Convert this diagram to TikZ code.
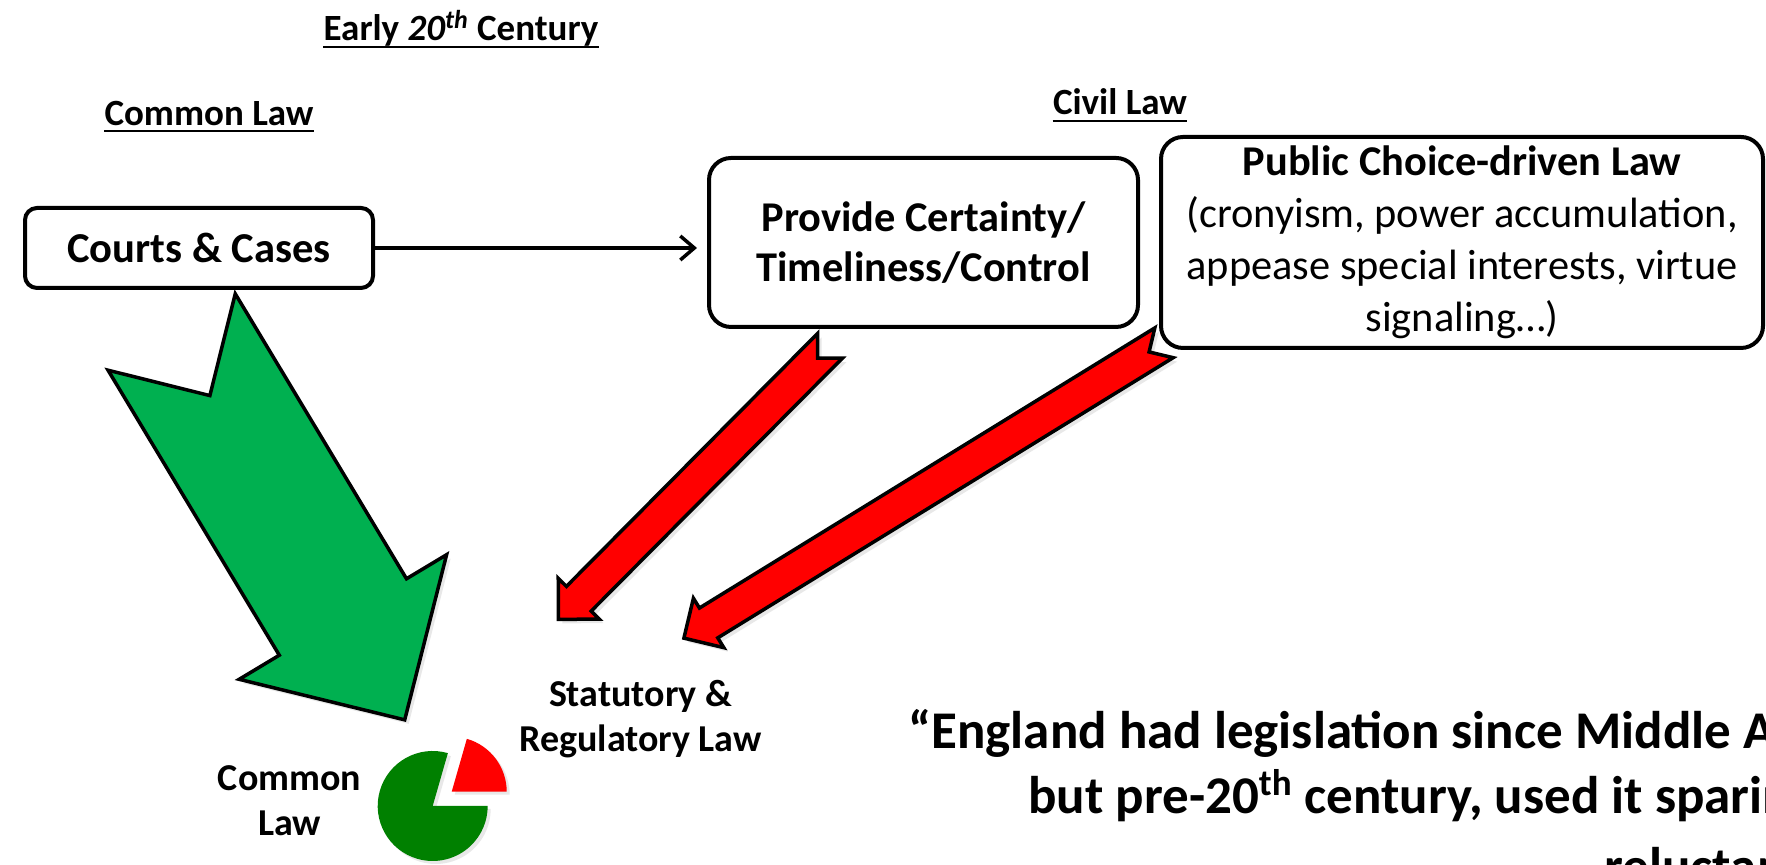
\documentclass[tikz,border=0pt]{standalone}
\usepackage{fontspec}
\setmainfont{Carlito}
\usetikzlibrary{arrows.meta,shadows}
\definecolor{arrowgreen}{HTML}{00B050}
\definecolor{piegreen}{HTML}{008000}
\definecolor{arrowred}{HTML}{FF0000}

% notched block arrow: style, tail midpoint, direction, length,
% half shaft width, half head width, head length
\newcommand{\notchedarrow}[7]{%
  \begin{scope}[shift={#2}, rotate=#3]
    \filldraw[#1] (0,#5) -- ({#4-#7},#5) -- ({#4-#7},#6) -- (#4,0)
      -- ({#4-#7},-#6) -- ({#4-#7},-#5) -- (0,-#5) -- (#5,0) -- cycle;
  \end{scope}}

\begin{document}
\begin{tikzpicture}[x=0.5pt,y=0.5pt,
  box/.style={draw=black, line width=2pt, fill=white, align=center, inner sep=0pt},
  hdr/.style={font=\fontsize{18.5}{22}\selectfont\bfseries, anchor=base, inner sep=0pt},
  underbar/.style={line width=1pt},
  lbl/.style={font=\fontsize{19}{22.5}\selectfont\bfseries, align=center, inner sep=0pt},
  quote/.style={font=\fontsize{26.5}{32}\selectfont\bfseries, anchor=base west, inner sep=0pt},
  blockarrow/.style={draw=black, line width=1.75pt, line join=miter,
    drop shadow={shadow xshift=2pt, shadow yshift=-2pt, opacity=0.18}},
  link/.style={line width=1.75pt, -{Straight Barb[length=7pt,width=12pt,line width=1.75pt]}, shorten >=5pt}]
\useasboundingbox (0,0) rectangle (1766,865);
\fill[white] (0,0) rectangle (1766,865);

% headings, underlined
\node[hdr] (era) at (461,824.3) {Early {\itshape 20\textsuperscript{th}} Century};
\node[hdr] (clhead) at (209,739.5) {Common Law};
\node[hdr] (civhead) at (1120,750) {Civil Law};
\foreach \h in {era,clhead,civhead}
  \draw[underbar] ([yshift=-3pt]\h.base west) -- ([yshift=-3pt]\h.base east);

% block arrows
\notchedarrow{blockarrow, fill=arrowgreen}{(171.65,533)}{-59}{452.5}{74.2}{121}{120}
\notchedarrow{blockarrow, fill=arrowred}{(830,519.2)}{225.2}{385.5}{17.5}{29}{29}
\notchedarrow{blockarrow, fill=arrowred}{(1164,522.2)}{211.6}{563.7}{17.5}{29}{29}

% boxes
\node[box, rounded corners=6pt, minimum width=174pt, minimum height=40pt,
  font=\fontsize{21.3}{25}\selectfont\bfseries] (courts) at (199,617) {Courts \& Cases};
\node[box, rounded corners=11pt, minimum width=214.5pt, minimum height=84.5pt,
  font=\fontsize{21.2}{25}\selectfont\bfseries] (provide) at (923.5,622.5)
  {Provide Certainty/\\Timeliness/Control};
\node[box, rounded corners=11pt, minimum width=301pt, minimum height=105.5pt,
  font=\fontsize{21.2}{26}\selectfont] (publicchoice) at (1462,622.5)
  {\textbf{Public Choice-driven Law}\\(cronyism, power accumulation,\\appease special interests, virtue\\signaling…)};

\draw[link] (courts.east) -- (courts.east -| provide.west);

% labels
\node[lbl] (statutory) at (640.5,146) {Statutory \&\\Regulatory Law};
\node[lbl] (pielabel) at (289.5,64) {Common\\Law};

% pie
\fill[piegreen, drop shadow={shadow xshift=1.5pt, shadow yshift=-1.5pt, opacity=0.18}]
  (432.7,59) -- ++(74:55) arc[start angle=74, end angle=360, radius=55] -- cycle;
\fill[arrowred, drop shadow={shadow xshift=1.5pt, shadow yshift=-1.5pt, opacity=0.18}]
  (451.7,73.3) -- ++(0:55) arc[start angle=0, end angle=74, radius=55] -- cycle;

% quotation
\node[quote] (q1) at (908,116.7) {“England had legislation since Middle Ages,};
\node[quote] (q2) at (1028,51.7) {but pre-20\textsuperscript{th} century, used it sparingly,};
\node[quote] (q3) at (1604,-20) {reluctantly”};
\end{tikzpicture}
\end{document}
